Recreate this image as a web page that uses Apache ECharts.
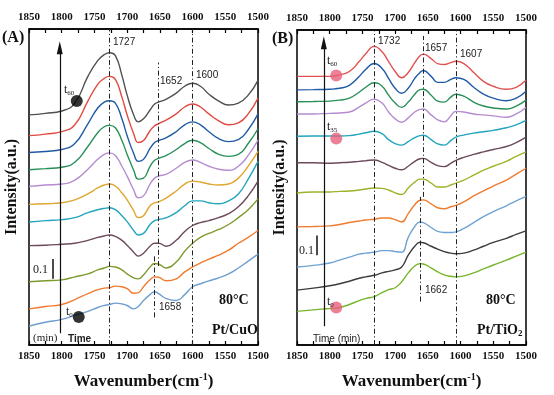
<!DOCTYPE html>
<html><head><meta charset="utf-8">
<script src="https://cdn.jsdelivr.net/npm/echarts/dist/echarts.min.js"></script>
<style>html,body{margin:0;padding:0;background:#fff}#c{width:554px;height:395px}</style>
</head><body><div id="c"></div>
<script>
// Wavenumber sample points (cm-1)
const wnA = [1850,1825,1800,1780,1760,1745,1735,1727,1718,1708,1700,1690,1683,1675,1665,1658,1652,1640,1625,1612,1600,1588,1575,1560,1545,1530,1515,1500];
const wnB = [1850,1825,1800,1785,1770,1755,1745,1732,1720,1710,1700,1690,1680,1670,1662,1657,1645,1635,1625,1615,1607,1595,1580,1565,1550,1530,1515,1500];
const xTicks = [1850,1800,1750,1700,1650,1600,1550,1500];

// Panel A: Pt/CuO, intensity (a.u., offset stacked), top (t60) to bottom (t0)
const cuo1 = [1.165,1.173,1.185,1.225,1.36,1.44,1.47,1.48,1.465,1.365,1.265,1.165,1.13,1.145,1.19,1.22,1.23,1.245,1.275,1.31,1.325,1.31,1.27,1.235,1.215,1.225,1.265,1.34];
const cuo2 = [1.06,1.068,1.08,1.115,1.235,1.32,1.35,1.36,1.345,1.255,1.165,1.07,1.025,1.035,1.085,1.11,1.12,1.14,1.17,1.205,1.22,1.205,1.17,1.135,1.115,1.125,1.17,1.25];
const cuo3 = [0.975,0.98,0.99,1.02,1.12,1.2,1.23,1.237,1.225,1.145,1.06,0.97,0.93,0.94,0.995,1.025,1.035,1.05,1.08,1.115,1.13,1.115,1.08,1.045,1.03,1.04,1.09,1.17];
const cuo4 = [0.887,0.893,0.9,0.925,1.005,1.075,1.105,1.112,1.1,1.035,0.965,0.885,0.84,0.845,0.905,0.935,0.945,0.96,0.99,1.02,1.037,1.025,0.995,0.965,0.955,0.965,1.02,1.095];
const cuo5 = [0.803,0.81,0.815,0.835,0.89,0.94,0.965,0.973,0.96,0.905,0.855,0.785,0.745,0.755,0.815,0.845,0.855,0.865,0.895,0.925,0.937,0.925,0.905,0.89,0.885,0.905,0.96,1.037];
const cuo6 = [0.712,0.715,0.72,0.735,0.765,0.795,0.81,0.815,0.805,0.77,0.735,0.68,0.645,0.655,0.705,0.72,0.725,0.745,0.78,0.815,0.83,0.825,0.815,0.81,0.815,0.845,0.905,0.98];
const cuo7 = [0.623,0.63,0.635,0.645,0.67,0.685,0.692,0.695,0.685,0.655,0.625,0.58,0.557,0.565,0.61,0.63,0.635,0.645,0.67,0.705,0.73,0.73,0.72,0.715,0.73,0.765,0.84,0.93];
const cuo8 = [0.503,0.505,0.51,0.515,0.53,0.545,0.552,0.557,0.55,0.53,0.505,0.47,0.45,0.465,0.5,0.515,0.515,0.5,0.53,0.575,0.605,0.62,0.63,0.645,0.665,0.7,0.755,0.83];
const cuo9 = [0.32,0.325,0.33,0.345,0.36,0.38,0.39,0.398,0.395,0.38,0.36,0.34,0.335,0.355,0.395,0.413,0.41,0.39,0.42,0.475,0.515,0.545,0.565,0.585,0.61,0.645,0.685,0.74];
const cuo10 = [0.183,0.195,0.205,0.23,0.26,0.28,0.288,0.29,0.298,0.295,0.285,0.262,0.265,0.295,0.33,0.345,0.343,0.325,0.335,0.37,0.395,0.415,0.435,0.455,0.48,0.515,0.545,0.58];
const cuo11 = [0.095,0.115,0.13,0.15,0.17,0.19,0.2,0.205,0.212,0.208,0.2,0.183,0.195,0.225,0.255,0.27,0.26,0.235,0.225,0.255,0.295,0.31,0.325,0.34,0.36,0.39,0.425,0.46];

// Panel B: Pt/TiO2
const tio1 = [1.36,1.36,1.36,1.368,1.385,1.435,1.475,1.512,1.485,1.435,1.385,1.353,1.38,1.43,1.465,1.473,1.45,1.425,1.42,1.43,1.437,1.425,1.38,1.335,1.31,1.295,1.305,1.34];
const tio2 = [1.292,1.293,1.295,1.3,1.315,1.36,1.395,1.425,1.4,1.35,1.3,1.275,1.3,1.35,1.38,1.39,1.36,1.33,1.33,1.345,1.353,1.345,1.305,1.27,1.25,1.237,1.25,1.285];
const tio3 = [1.232,1.233,1.235,1.24,1.25,1.28,1.305,1.328,1.31,1.265,1.225,1.203,1.23,1.27,1.293,1.295,1.265,1.235,1.23,1.255,1.27,1.26,1.23,1.21,1.2,1.195,1.21,1.24];
const tio4 = [1.17,1.17,1.173,1.175,1.18,1.205,1.225,1.245,1.225,1.18,1.145,1.128,1.15,1.18,1.193,1.195,1.165,1.14,1.13,1.16,1.183,1.18,1.17,1.165,1.16,1.153,1.17,1.203];
const tio5 = [1.057,1.058,1.058,1.058,1.06,1.068,1.075,1.082,1.07,1.04,1.02,1.012,1.03,1.05,1.06,1.062,1.04,1.018,1.012,1.035,1.053,1.063,1.073,1.08,1.087,1.1,1.115,1.137];
const tio6 = [0.923,0.923,0.92,0.923,0.925,0.93,0.933,0.937,0.925,0.91,0.895,0.887,0.905,0.93,0.943,0.945,0.925,0.908,0.903,0.92,0.935,0.95,0.965,0.978,0.99,1.005,1.025,1.053];
const tio7 = [0.77,0.775,0.775,0.778,0.78,0.785,0.79,0.795,0.793,0.785,0.77,0.762,0.795,0.825,0.84,0.84,0.82,0.8,0.8,0.81,0.82,0.835,0.86,0.885,0.905,0.93,0.955,0.978];
const tio8 = [0.598,0.6,0.603,0.61,0.62,0.628,0.633,0.637,0.643,0.643,0.635,0.623,0.665,0.71,0.733,0.735,0.715,0.695,0.69,0.7,0.707,0.725,0.755,0.78,0.805,0.835,0.865,0.895];
const tio9 = [0.395,0.403,0.415,0.43,0.445,0.46,0.465,0.47,0.478,0.478,0.473,0.47,0.545,0.6,0.623,0.62,0.595,0.575,0.57,0.57,0.573,0.59,0.62,0.65,0.675,0.705,0.73,0.753];
const tio10 = [0.278,0.288,0.3,0.31,0.323,0.338,0.345,0.353,0.365,0.373,0.38,0.395,0.455,0.5,0.52,0.518,0.5,0.485,0.473,0.465,0.462,0.465,0.48,0.5,0.52,0.54,0.56,0.578];
const tio11 = [0.17,0.178,0.185,0.19,0.205,0.225,0.235,0.245,0.265,0.28,0.29,0.32,0.365,0.4,0.412,0.41,0.39,0.37,0.355,0.348,0.345,0.35,0.365,0.385,0.405,0.43,0.45,0.47];

// Peak marker wavenumbers
const peaksA = [1727, 1600];
const peakA2 = 1652, peakA3 = 1658;
const peaksB = [1732, 1607];
const peakB2 = 1657, peakB3 = 1662;
// time markers [wavenumber, intensity]
const markA = [[1777, 1.235], [1774, 0.142]];
const markB = [[1790, 1.365], [1790, 1.045], [1790, 0.19]];

const colorsA = ['#505050','#e04a42','#1f5aa6','#27905a','#b48ccf','#e0a630','#22a5bd','#6b4a5c','#7d9a2c','#ef7b2f','#6f9fcf'];
const colorsB = ['#e05252','#1f5aa6','#27905a','#b48ccf','#22a5bd','#6b4a5c','#9ab52a','#ef7b2f','#6fa3d3','#3c3c3c','#76b52c'];
const curvesA = [cuo1,cuo2,cuo3,cuo4,cuo5,cuo6,cuo7,cuo8,cuo9,cuo10,cuo11];
const curvesB = [tio1,tio2,tio3,tio4,tio5,tio6,tio7,tio8,tio9,tio10,tio11];

const serif = 'Liberation Serif';
const sans = 'Liberation Sans';
const dashDot = [5, 2.5, 1.2, 2.5];
const yMaxA = 1.6, yMaxB = 1.595;

function xAx(grid, pos, name) {
  const a = {
    type: 'value', gridIndex: grid, position: pos, min: 1500, max: 1850, interval: 50, inverse: true,
    axisLine: {show: true, lineStyle: {color: '#000', width: 1.5}},
    axisTick: {show: true, inside: true, length: 4, lineStyle: {color: '#000', width: 1.2}},
    minorTick: {show: true, splitNumber: 2, length: 4, lineStyle: {color: '#000', width: 1.2}},
    axisLabel: {show: true, margin: 6, fontFamily: serif, fontWeight: 'bold', fontSize: 11, color: '#111',
      formatter: v => xTicks.includes(v) ? String(v) : ''},
    splitLine: {show: false}
  };
  if (name) {
    a.name = '{a|Wavenumber(cm}{s|-1}{a|)}';
    a.nameLocation = 'middle';
    a.nameGap = 27;
    a.nameTextStyle = {rich: {
      a: {fontFamily: serif, fontWeight: 'bold', fontSize: 17, color: '#111'},
      s: {fontFamily: serif, fontWeight: 'bold', fontSize: 10, color: '#111', padding: [0, 0, 9, 0]}
    }};
  }
  return a;
}
function yAx(grid, max, gap) {
  return {
    type: 'value', gridIndex: grid, min: 0, max: max,
    axisLine: {show: false}, axisTick: {show: false}, axisLabel: {show: false}, splitLine: {show: false},
    name: 'Intensity(a.u.)', nameLocation: 'middle', nameRotate: 90, nameGap: gap,
    nameTextStyle: {fontFamily: serif, fontWeight: 'bold', fontSize: 16, color: '#111'}
  };
}

const series = [];
curvesA.forEach((c, i) => series.push({
  type: 'line', xAxisIndex: 0, yAxisIndex: 0, data: wnA.map((w, j) => [w, c[j]]),
  smooth: 0.5, symbol: 'none', lineStyle: {color: colorsA[i], width: 1.4}, z: 3
}));
curvesB.forEach((c, i) => series.push({
  type: 'line', xAxisIndex: 2, yAxisIndex: 1, data: wnB.map((w, j) => [w, c[j]]),
  smooth: 0.5, symbol: 'none', lineStyle: {color: colorsB[i], width: 1.4}, z: 3
}));

function vline(w, y0, y1) { return [{coord: [w, y0]}, {coord: [w, y1]}]; }
// reference lines
series.push({
  type: 'line', xAxisIndex: 0, yAxisIndex: 0, data: [], silent: true,
  markLine: {symbol: 'none', silent: true, label: {show: false}, animation: false,
    lineStyle: {color: '#222', width: 1, type: dashDot},
    data: [vline(peaksA[0], 0, yMaxA), vline(peaksA[1], 0, yMaxA), vline(peakA2, 0.40, 1.43), vline(peakA3, 0.14, 0.45)]}
});
series.push({
  type: 'line', xAxisIndex: 2, yAxisIndex: 1, data: [], silent: true,
  markLine: {symbol: 'none', silent: true, label: {show: false}, animation: false,
    lineStyle: {color: '#222', width: 1, type: dashDot},
    data: [vline(peaksB[0], 0, yMaxB), vline(peaksB[1], 0, yMaxB), vline(peakB2, 0.75, 1.565), vline(peakB3, 0.22, 0.75)]}
});
// time arrows and scale bars
series.push({
  type: 'line', xAxisIndex: 0, yAxisIndex: 0, data: [], silent: true,
  markLine: {silent: true, label: {show: false}, animation: false, symbol: ['none', 'triangle'], symbolSize: [6, 13],
    lineStyle: {color: '#111', width: 1.2, type: 'solid'},
    data: [vline(1803, 0.06, 1.505)]}
});
series.push({
  type: 'line', xAxisIndex: 0, yAxisIndex: 0, data: [], silent: true,
  markLine: {silent: true, label: {show: false}, animation: false, symbol: 'none',
    lineStyle: {color: '#111', width: 1.5, type: 'solid'},
    data: [vline(1814, 0.335, 0.435)]}
});
series.push({
  type: 'line', xAxisIndex: 2, yAxisIndex: 1, data: [], silent: true,
  markLine: {silent: true, label: {show: false}, animation: false, symbol: ['none', 'triangle'], symbolSize: [6, 13],
    lineStyle: {color: '#111', width: 1.2, type: 'solid'},
    data: [vline(1809, 0.095, 1.53)]}
});
series.push({
  type: 'line', xAxisIndex: 2, yAxisIndex: 1, data: [], silent: true,
  markLine: {silent: true, label: {show: false}, animation: false, symbol: 'none',
    lineStyle: {color: '#111', width: 1.5, type: 'solid'},
    data: [vline(1820, 0.455, 0.555)]}
});
// time markers
series.push({type: 'scatter', xAxisIndex: 0, yAxisIndex: 0, data: markA, symbolSize: 12,
  itemStyle: {color: '#000'}, z: 5});
series.push({type: 'scatter', xAxisIndex: 2, yAxisIndex: 1, data: markB, symbolSize: 12,
  itemStyle: {color: '#e8607c'}, z: 5});

function txt(x, y, t, font, extra) {
  return {type: 'text', left: x, top: y, z: 10, style: Object.assign({text: t, font: font, fill: '#222'}, extra || {})};
}
function tsub(x, y, sub) {
  return {type: 'text', left: x, top: y, z: 10, style: {
    text: '{t|t}{s|' + sub + '}',
    rich: {t: {fontFamily: serif, fontSize: 12, fill: '#222'}, s: {fontFamily: serif, fontSize: 7, fill: '#222', padding: [6, 0, 0, 0]}}
  }};
}
const pk = '10px ' + sans;
const graphic = [
  txt(2, 30, '(A)', 'bold 16px ' + serif, {fill: '#111'}),
  txt(272, 31, '(B)', 'bold 16px ' + serif, {fill: '#111'}),
  txt(113, 37, '1727', pk), txt(160, 76, '1652', pk), txt(196, 70, '1600', pk), txt(159, 302, '1658', pk),
  txt(378, 36, '1732', pk), txt(425, 43, '1657', pk), txt(460, 49, '1607', pk), txt(425, 285, '1662', pk),
  txt(33, 264, '0.1', '12px ' + serif), txt(299, 245, '0.1', '12px ' + serif),
  txt(33, 333, '(min)', '11px ' + serif), txt(68, 334, 'Time', 'bold 10px ' + sans),
  txt(313, 334, 'Time (min)', '10px ' + sans),
  txt(219, 293, '80°C', 'bold 14px ' + serif, {fill: '#111'}),
  txt(212, 323, 'Pt/CuO', 'bold 14px ' + serif, {fill: '#111'}),
  txt(486, 293, '80°C', 'bold 14px ' + serif, {fill: '#111'}),
  {type: 'text', left: 477, top: 323, z: 10, style: {text: '{a|Pt/TiO}{s|2}', rich: {
    a: {fontFamily: serif, fontWeight: 'bold', fontSize: 14, fill: '#111'},
    s: {fontFamily: serif, fontWeight: 'bold', fontSize: 9, fill: '#111', padding: [7, 0, 0, 0]}}}},
  tsub(64, 84, '60'), tsub(66, 306, '0'),
  tsub(327, 55, '60'), tsub(327, 121, '35'), tsub(327, 296, '0')
];

const chart = echarts.init(document.getElementById('c'), null, {renderer: 'canvas'});
chart.setOption({
  animation: false,
  backgroundColor: '#fff',
  grid: [
    {left: 29, top: 29, width: 229, height: 320, show: true, borderColor: '#000', borderWidth: 1.5},
    {left: 297, top: 30, width: 229, height: 319, show: true, borderColor: '#000', borderWidth: 1.5}
  ],
  xAxis: [xAx(0, 'bottom', true), xAx(0, 'top', false), xAx(1, 'bottom', true), xAx(1, 'top', false)],
  yAxis: [yAx(0, yMaxA, 9), yAx(1, yMaxB, 9)],
  series: series,
  graphic: graphic
});
</script></body></html>
